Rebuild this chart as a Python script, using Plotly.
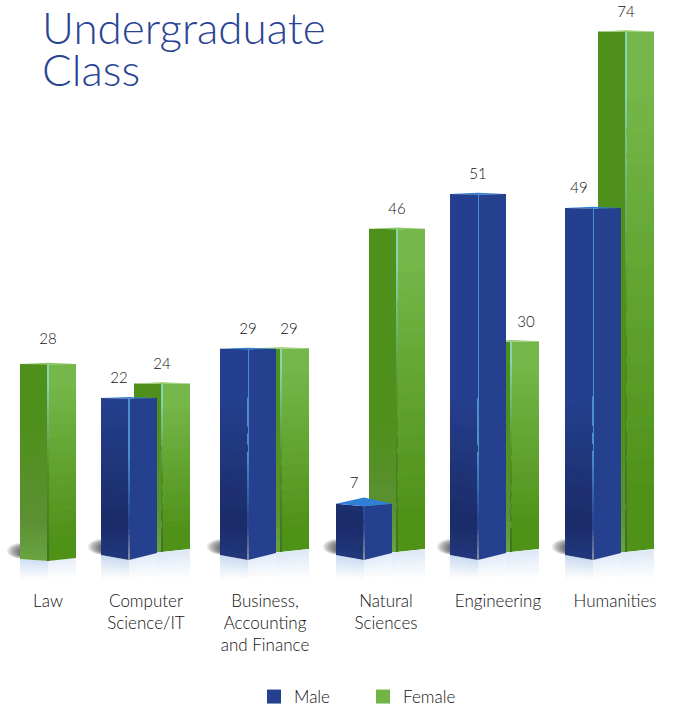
import plotly.graph_objects as go

categories = ["Law", "Computer<br>Science/IT", "Business,<br>Accounting<br>and Finance", "Natural<br>Sciences", "Engineering", "Humanities"]
male = [None, 22, 29, 7, 51, 49]
female = [28, 24, 29, 46, 30, 74]

W, H = 673, 707
AXIS_PX = 585
PX_PER_UNIT = 7.04
ZERO_PX = 552.5
SLOT_SPAN = 115.8
SLOT0_PX = 48
# layout: centre of each category's rear column, tick label centre, label nudges
SLOT_PX = [48, 162, 281, 397, 511, 626]
LABEL_PX = [48, 146, 265, 386, 498, 615]
MALE_LABEL_NUDGE = [0, -10, 0, -10, 0, -14]
FEMALE_LABEL_NUDGE = [0, 0, 8, 0, 15, 0]

def X(px): return (px - SLOT0_PX) / SLOT_SPAN
def Y(py): return (ZERO_PX - py) / PX_PER_UNIT
def hexrgb(h): return tuple(int(h[i:i+2], 16) for i in (1, 3, 5))
def mix(a, b, t):
    a, b = hexrgb(a), hexrgb(b)
    t = max(0, min(1, t))
    return "#%02x%02x%02x" % tuple(int(round((a[i] + (b[i]-a[i])*t) / 3) * 3) for i in range(3))

def male_left(h, t):
    if h < 35: return mix("#21367c", "#1b2c68", h/35)
    return mix("#1b2c68", "#25408f", (h-35)/130)
def male_right(h, t): return "#25408f"
def male_stripe(h, t):
    if h < 35: return mix("#8a8f9c", "#25408f", h/35)
    return mix("#25408f", "#4a8fcb", (h-35)/70)
def fem_left(h, t):
    if h < 40: return mix("#69a541", "#5c8f33", h/40)
    return mix("#5c8f33", "#4f901c", (h-40)/90)
def fem_right(h, t):
    return mix("#4f9219", "#76b84a", (t-0.12)/0.8)
def fem_stripe(h, t):
    if t < 0.45: return mix("#3f7322", "#4f901c", t/0.45)
    return mix("#4f901c", "#86d4b4", (t-0.45)/0.45)

layers = {}
def poly(layer, color, xs, ys):
    d = layers.setdefault((layer, color), ([], []))
    d[0].extend(xs + [xs[0], None])
    d[1].extend(ys + [ys[0], None])

def face(layer, colf, xl, xr, bl, br, tl, tr):
    """Vertical gradient face, all arguments in pixels; equal-coloured bands are merged."""
    height = max(bl, br) - min(tl, tr)
    n = max(3, int(height / 6))
    bands = []
    for k in range(n):
        a, b = k/n, (k+1)/n
        c = colf(height*(a+b)/2, (a+b)/2)
        if bands and bands[-1][0] == c:
            bands[-1][2] = b
        else:
            bands.append([c, a, b])
    for j, (c, a, b) in enumerate(bands):
        lo = [bl+(tl-bl)*a, br+(tr-br)*a]
        up = [bl+(tl-bl)*b, br+(tr-br)*b]
        if j < len(bands)-1:
            up = [up[0]-0.8, up[1]-0.8]
        poly(layer, c, [X(xl), X(xr), X(xr), X(xl)], [Y(lo[0]), Y(lo[1]), Y(up[1]), Y(up[0])])

def reflection(layer, xl, xr, bl, br, bottom, col):
    n = 10
    for k in range(n):
        a, b = k/n, (k+1)/n
        p = [bl+(bottom-bl)*a, br+(bottom-br)*a, br+(bottom-br)*b+0.6, bl+(bottom-bl)*b+0.6]
        poly(layer, mix(col, "#ffffff", (a+b)/2), [X(xl), X(xr), X(xr), X(xl)], [Y(v) for v in p])

shapes = []
def shadow(xl, base):
    for k in range(9):
        grow = 13 - 1.5*k
        shapes.append(dict(type="circle", layer="below", xref="x", yref="y",
                           x0=X(xl-grow), x1=X(xl+16), y0=Y(base-0.5-k*0.2), y1=Y(base-16+k*0.5),
                           fillcolor="#303030", opacity=0.11, line=dict(width=0)))

def bar(layer, cx, top, base_l, base_c, base_r, lf, rf, sf, topcol, refl):
    L, R = cx-28, cx+28
    depth = max(1.2, 1.2 + 5*(top-400)/105) if top > 400 else 1.2
    tl, tr, tc = top, top, top + depth*0.4
    shadow(L, base_l)
    reflection(layer, L, cx, base_l, base_c, 579, refl[0])
    reflection(layer, cx, R, base_c, base_r, 579, refl[1])
    face(layer, lf, L, cx, base_l, base_c, tl, tc)
    face(layer, rf, cx, R, base_c, base_r, tc, tr)
    face(layer, sf, cx-1, cx+1, base_c, base_c, tc, tc)
    poly(layer, topcol, [X(L), X(cx), X(R), X(cx)], [Y(tl), Y(tc), Y(tr), Y(top-depth)])

label_pts = {"f": ([], [], []), "m": ([], [], [])}
for i, (m, f) in enumerate(zip(male, female)):
    slot = SLOT_PX[i]
    if m is None:
        top = 561 - f*PX_PER_UNIT
        bar("1f", slot, top, 559, 561, 558, fem_left, fem_right, fem_stripe, "#8fc96a", ("#cfdff3", "#e6eef9"))
        lab = top - 24
    else:
        top = ZERO_PX - f*PX_PER_UNIT
        bar("1f", slot, top, 552, 552, 549, fem_left, fem_right, fem_stripe, "#8fc96a", ("#dbe7f6", "#dde8f6"))
        lab = top - 18
    label_pts["f"][0].append(X(slot + FEMALE_LABEL_NUDGE[i])); label_pts["f"][1].append(Y(lab)); label_pts["f"][2].append(str(f))
    if m is not None:
        cx = slot - 33
        top = 553 - m*PX_PER_UNIT
        bar("2m", cx, top, 555, 560, 553, male_left, male_right, male_stripe, "#2f7fd6", ("#cbdcf1", "#e3ecf8"))
        label_pts["m"][0].append(X(cx + MALE_LABEL_NUDGE[i])); label_pts["m"][1].append(Y(top-19)); label_pts["m"][2].append(str(m))

fig = go.Figure()
for (layer, color), (xs, ys) in sorted(layers.items(), key=lambda kv: kv[0][0]):
    fig.add_trace(go.Scatter(x=xs, y=ys, mode="none", fill="toself", fillcolor=color,
                             hoverinfo="skip", showlegend=False))
for k in ("f", "m"):
    fig.add_trace(go.Scatter(x=label_pts[k][0], y=label_pts[k][1], text=label_pts[k][2], mode="text",
                             textposition="middle center", textfont=dict(size=15, color="#111111", weight=300),
                             hoverinfo="skip", showlegend=False))
fig.add_trace(go.Scatter(x=[None], y=[None], mode="markers", name="Male", legend="legend",
                         marker=dict(symbol="square", size=14, color="#25408f")))
fig.add_trace(go.Scatter(x=[None], y=[None], mode="markers", name="Female", legend="legend2",
                         marker=dict(symbol="square", size=14, color="#71b545")))

legend_style = dict(orientation="h", xanchor="left", y=-(697-AXIS_PX)/AXIS_PX, yanchor="middle",
                    font=dict(size=17, color="#111111", weight=300), bgcolor="rgba(0,0,0,0)", itemwidth=30)

fig.update_layout(
    width=W, height=H, margin=dict(l=0, r=0, t=0, b=H-AXIS_PX, autoexpand=False),
    paper_bgcolor="white", plot_bgcolor="white", shapes=shapes, showlegend=True,
    font=dict(family="Lato, sans-serif", color="#111111", size=17, weight=300),
    xaxis=dict(range=[X(0), X(W)], showgrid=False, zeroline=False, showline=False, ticks="",
               tickmode="array", tickvals=[X(p) for p in LABEL_PX], ticktext=categories,
               tickfont=dict(size=17, color="#111111", weight=300), ticklabelstandoff=4, tickangle=0),
    yaxis=dict(range=[Y(AXIS_PX), Y(0)], visible=False, showgrid=False, zeroline=False),
    legend=dict(x=254/W, **legend_style),
    legend2=dict(x=363/W, **legend_style),
    annotations=[
        dict(text="Undergraduate", xref="paper", yref="paper", x=40/W, y=1-27/AXIS_PX, xanchor="left", yanchor="middle",
             showarrow=False, font=dict(size=44, color="#2a4494", weight=300)),
        dict(text="Class", xref="paper", yref="paper", x=40/W, y=1-69/AXIS_PX, xanchor="left", yanchor="middle",
             showarrow=False, font=dict(size=44, color="#2a4494", weight=300)),
    ],
)
fig.write_html("out.html", config=dict(displayModeBar=False),
               post_script="document.body.style.margin='0';")
